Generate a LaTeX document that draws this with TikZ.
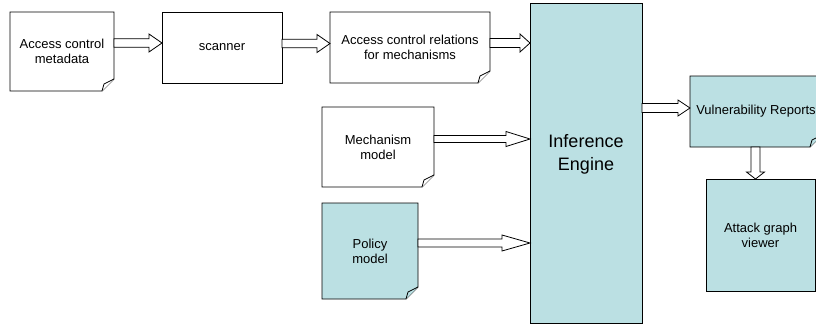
\documentclass[tikz,border=0pt]{standalone}
\usepackage{fontspec}
\setmainfont{Liberation Sans}
\usetikzlibrary{positioning, calc, backgrounds}
\definecolor{paleteal}{RGB}{187,224,227}

% hollow block arrows: start, end, shaft half width, head half width, head length
\newcommand{\harrow}[5]{%
  \draw[fill=white] let \p1=#1, \p2=#2 in
    (\x1,\y1+#3) -- (\x2-#5,\y1+#3) -- (\x2-#5,\y1+#4) -- (\x2,\y1)
    -- (\x2-#5,\y1-#4) -- (\x2-#5,\y1-#3) -- (\x1,\y1-#3) -- cycle;}
\newcommand{\varrow}[5]{%
  \draw[fill=white] let \p1=#1, \p2=#2 in
    (\x1+#3,\y1) -- (\x1+#3,\y2+#5) -- (\x1+#4,\y2+#5) -- (\x1,\y2)
    -- (\x1-#4,\y2+#5) -- (\x1-#3,\y2+#5) -- (\x1-#3,\y1) -- cycle;}
% page with a curled corner behind a node
\newcommand{\docshape}[2]{%
  \filldraw[fill=#2, draw=black, line width=0.8pt] (#1.north west) -- (#1.north east) -- ($(#1.south east)+(0,-12)$)
    -- ($(#1.south east)+(-12,0)$) -- (#1.south west) -- cycle;
  \filldraw[fill=#2, draw=black, line width=0.8pt] ($(#1.south east)+(-12,0)$) -- ($(#1.south east)+(-10,-7)$)
    -- ($(#1.south east)+(0,-12)$);}

\begin{document}
\begin{tikzpicture}[x=1pt,y=-1pt,line width=0.8pt,
  every node/.style={font=\fontsize{13}{15}\selectfont, align=center, inner sep=0pt, outer sep=0pt},
  docnode/.style={},
  plainbox/.style={draw, fill=white}]
	\useasboundingbox (0,0) rectangle (816,327);
	
	\node [docnode, minimum width=104, minimum height=79] (meta) at (62,51.5) {Access control\\metadata};
	\node [plainbox, minimum width=120, minimum height=71] (scanner) at (222,47.5) {scanner};
	\node [docnode, minimum width=160, minimum height=71] (relations) at (410,47.5) {Access control relations\\for mechanisms};
	\node [plainbox, fill=paleteal, minimum width=112, minimum height=320,
		label={[align=center, font=\fontsize{18}{23}\selectfont, yshift=9pt]center:Inference\\Engine}] (engine) at (586,163) {};
	\node [docnode, minimum width=112, minimum height=80] (mechanism) at (378,147) {Mechanism\\model};
	\node [docnode, minimum width=96, minimum height=96] (policy) at (370,251) {Policy\\model};
	\node [docnode, minimum width=132, minimum height=71] (reports) at (756,111.5) {Vulnerability Reports};
	\node [plainbox, fill=paleteal, minimum width=109, minimum height=112] (viewer) at (760.5,235) {Attack graph\\viewer};
	
	\begin{scope}[on background layer]
		\docshape{meta}{white}
		\docshape{relations}{white}
		\docshape{mechanism}{white}
		\docshape{policy}{paleteal}
		\docshape{reports}{paleteal}
	\end{scope}
	
	\harrow{($(meta.east)+(0,-8.5)$)}{(scanner.west)}{4.2pt}{9pt}{13pt}
	\harrow{($(scanner.east)+(0,-4)$)}{(relations.west)}{4.2pt}{9pt}{13pt}
	\harrow{($(relations.east)+(0,-4.5)$)}{(engine.west)}{4.5pt}{9pt}{10pt}
	\harrow{($(mechanism.east)+(0,-8)$)}{(engine.west)}{3.5pt}{7.5pt}{24pt}
	\harrow{($(policy.east)+(0,-8)$)}{(engine.west)}{4pt}{8pt}{28pt}
	\harrow{($(engine.east |- reports.west)+(0,-3.5)$)}{(reports.west)}{4.5pt}{8pt}{12pt}
	\varrow{($(reports.south)+(-0.5,0)$)}{(viewer.north)}{4.5pt}{9pt}{7pt}
\end{tikzpicture}
\end{document}
